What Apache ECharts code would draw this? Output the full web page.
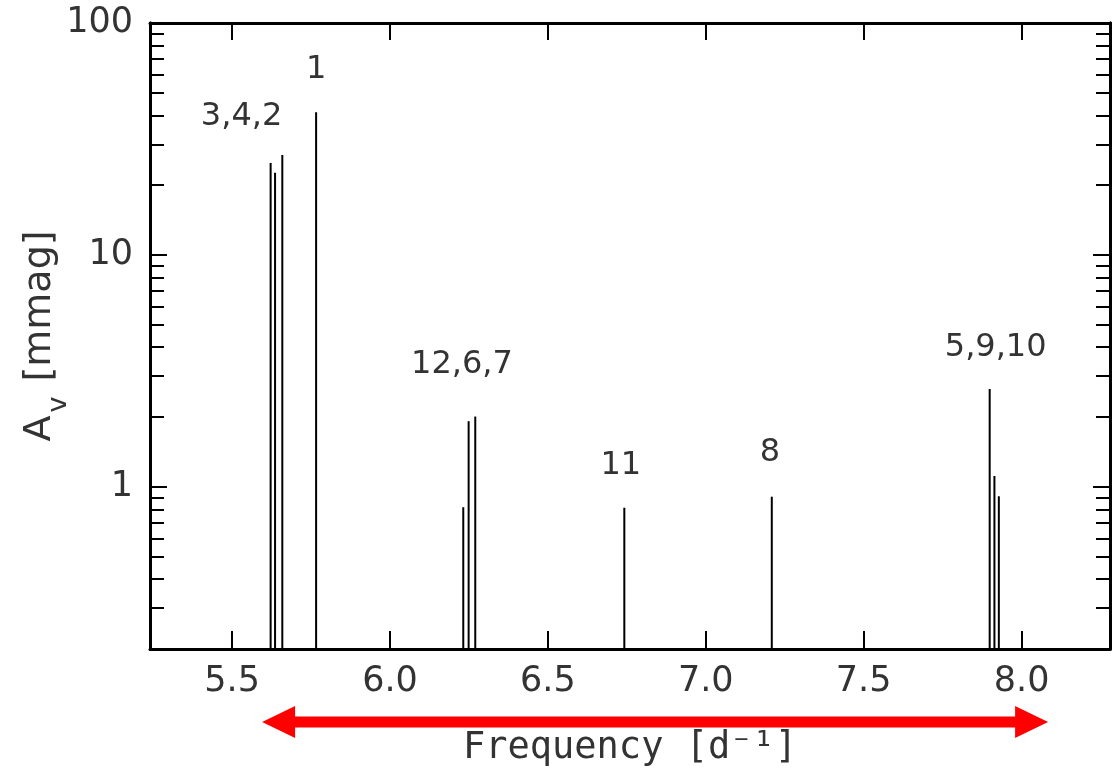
<!DOCTYPE html>
<html>
<head>
<meta charset="utf-8">
<script src="https://cdn.jsdelivr.net/npm/echarts@6/dist/echarts.min.js"></script>
<style>
html,body{margin:0;padding:0;background:#fff;}
#chart{width:1114px;height:772px;}
</style>
</head>
<body>
<div id="chart"></div>
<script>
// ---- data ----
const modeIds   = ['3', '4', '2', '1', '12', '6', '7', '11', '8', '5', '9', '10'];
const frequency = [5.622, 5.636, 5.659, 5.766, 6.232, 6.249, 6.270, 6.742, 7.209, 7.899, 7.914, 7.928];
const amplitude = [24.9, 22.6, 27.0, 41.2, 0.817, 1.92, 2.01, 0.813, 0.907, 2.64, 1.114, 0.911];

const groupLabels = ['3,4,2', '1', '12,6,7', '11', '8', '5,9,10'];
const groupLabelFreq = [5.530, 5.766, 6.228, 6.731, 7.203, 7.918];
const groupLabelAmp  = [39.4, 63.1, 3.36, 1.24, 1.41, 3.97];

const arrowRange = [5.595, 8.084];

const xTicks = [5.5, 6.0, 6.5, 7.0, 7.5, 8.0];
const yMajorTicks = [1, 10, 100];
const yMinorTicks = [0.3, 0.4, 0.5, 0.6, 0.7, 0.8, 0.9, 2, 3, 4, 5, 6, 7, 8, 9, 20, 30, 40, 50, 60, 70, 80, 90];

const xMin = 5.24, xMax = 8.28, yMin = 0.2, yMax = 100;

// ---- chart ----
const FONT = 'DejaVu Sans';
const TXT = '#333';
const chart = echarts.init(document.getElementById('chart'), null, {renderer: 'canvas'});

function yAxisDef(pos, ticks, len, withLabels) {
  return {
    type: 'log', logBase: 10, position: pos, min: yMin, max: yMax,
    axisLine: {show: true, lineStyle: {color: '#000', width: 3}},
    axisTick: {show: true, inside: true, interval: 0, length: len, customValues: ticks, lineStyle: {color: '#000', width: 2}},
    axisLabel: withLabels ? {
      show: true, interval: 0, customValues: yMajorTicks, formatter: v => String(Math.round(v)),
      fontFamily: FONT, fontSize: 35, color: TXT, margin: 17
    } : {show: false},
    splitLine: {show: false},
    minorTick: {show: false}
  };
}

const yAxes = [
  yAxisDef('left', yMajorTicks, 17, true),
  yAxisDef('left', yMinorTicks, 14, false),
  yAxisDef('right', yMajorTicks, 17, false),
  yAxisDef('right', yMinorTicks, 14, false)
];
yAxes[0].name = '{a|A}{s|v}{a| [mmag]}';
yAxes[0].nameLocation = 'middle';
yAxes[0].nameRotate = 90;
yAxes[0].nameGap = 78;
yAxes[0].nameMoveOverlap = false;
yAxes[0].nameTextStyle = {
  fontFamily: FONT, fontSize: 38, color: TXT,
  rich: {
    a: {fontFamily: FONT, fontSize: 38, color: TXT, verticalAlign: 'middle'},
    s: {fontFamily: FONT, fontSize: 27, color: TXT, verticalAlign: 'bottom', padding: [36, 3, 0, 3]}
  }
};

const option = {
  animation: false,
  backgroundColor: '#fff',
  grid: {left: 150, right: 4, top: 23, bottom: 123, containLabel: false},
  xAxis: [
    {
      type: 'value', position: 'bottom', min: xMin, max: xMax,
      axisLine: {show: true, onZero: false, lineStyle: {color: '#000', width: 3}},
      axisTick: {show: true, inside: true, interval: 0, length: 18, customValues: xTicks, lineStyle: {color: '#000', width: 2}},
      axisLabel: {show: true, interval: 0, customValues: xTicks, formatter: v => v.toFixed(1),
        fontFamily: FONT, fontSize: 35, color: TXT, margin: 15},
      splitLine: {show: false},
      name: 'Frequency [d\u207B\u00B9]',
      nameLocation: 'middle', nameGap: 81, nameMoveOverlap: false,
      nameTextStyle: {fontFamily: 'DejaVu Sans Mono', fontSize: 37, color: TXT}
    },
    {
      type: 'value', position: 'top', min: xMin, max: xMax,
      axisLine: {show: true, onZero: false, lineStyle: {color: '#000', width: 3}},
      axisTick: {show: true, inside: true, interval: 0, length: 17, customValues: xTicks, lineStyle: {color: '#000', width: 2}},
      axisLabel: {show: false},
      splitLine: {show: false}
    }
  ],
  yAxis: yAxes,
  series: [
    {
      type: 'custom', coordinateSystem: 'cartesian2d', xAxisIndex: 0, yAxisIndex: 0,
      silent: true,
      data: frequency.map((f, i) => [f, amplitude[i], modeIds[i]]),
      renderItem: function (params, api) {
        const top = api.coord([api.value(0), api.value(1)]);
        const bot = api.coord([api.value(0), yMin]);
        return {type: 'line', shape: {x1: top[0], y1: top[1], x2: bot[0], y2: bot[1]},
          style: {stroke: '#000', lineWidth: 2}};
      }
    },
    {
      type: 'custom', coordinateSystem: 'cartesian2d', xAxisIndex: 0, yAxisIndex: 0,
      silent: true,
      data: groupLabelFreq.map((f, i) => [f, groupLabelAmp[i]]),
      renderItem: function (params, api) {
        const p = api.coord([api.value(0), api.value(1)]);
        return {type: 'text', x: p[0], y: p[1],
          style: {text: groupLabels[params.dataIndex], fontFamily: FONT, fontSize: 32,
            fill: TXT, align: 'center', verticalAlign: 'middle'}};
      }
    },
    {
      type: 'custom', coordinateSystem: 'cartesian2d', xAxisIndex: 0, yAxisIndex: 0,
      silent: true, clip: false,
      data: [[arrowRange[0], yMin]],
      renderItem: function (params, api) {
        const a = api.coord([arrowRange[0], yMin]);
        const b = api.coord([arrowRange[1], yMin]);
        const y = a[1] + 73, xl = a[0], xr = b[0];
        const hl = 33, hh = 16, sh = 5.5;
        return {type: 'polygon', shape: {points: [
          [xl, y], [xl + hl, y - hh], [xl + hl, y - sh], [xr - hl, y - sh], [xr - hl, y - hh],
          [xr, y], [xr - hl, y + hh], [xr - hl, y + sh], [xl + hl, y + sh], [xl + hl, y + hh]
        ]}, style: {fill: '#ff0000'}};
      }
    }
  ]
};
chart.setOption(option);
</script>
</body>
</html>
